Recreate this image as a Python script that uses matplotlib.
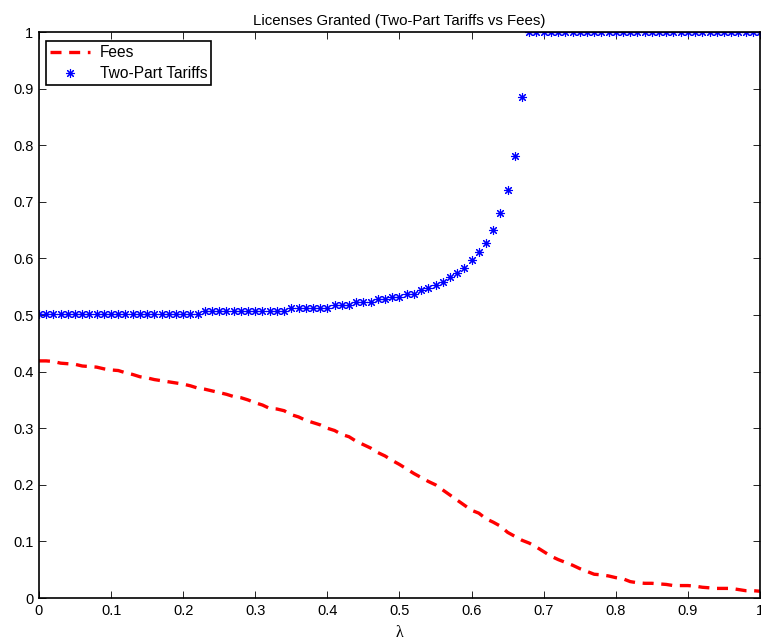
import matplotlib as mpl
import matplotlib.pyplot as plt
import numpy as np

mpl.rcParams['font.family'] = ['Liberation Sans', 'DejaVu Sans']

lam = np.round(np.arange(0, 101) * 0.01, 2)

fees = [0.419, 0.419, 0.418, 0.415, 0.414, 0.413, 0.410, 0.409, 0.408, 0.405,
        0.403, 0.402, 0.398, 0.395, 0.391, 0.389, 0.386, 0.384, 0.382, 0.380,
        0.378, 0.375, 0.371, 0.369, 0.366, 0.363, 0.360, 0.356, 0.354, 0.350,
        0.345, 0.341, 0.335, 0.334, 0.331, 0.324, 0.320, 0.314, 0.310, 0.306,
        0.300, 0.296, 0.289, 0.285, 0.277, 0.271, 0.265, 0.257, 0.251, 0.243,
        0.236, 0.228, 0.220, 0.213, 0.206, 0.200, 0.191, 0.182, 0.173, 0.164,
        0.155, 0.150, 0.140, 0.134, 0.127, 0.116, 0.109, 0.102, 0.097, 0.090,
        0.082, 0.074, 0.068, 0.063, 0.058, 0.052, 0.047, 0.042, 0.041, 0.039,
        0.036, 0.034, 0.029, 0.027, 0.026, 0.026, 0.025, 0.024, 0.022, 0.022,
        0.022, 0.021, 0.019, 0.018, 0.017, 0.017, 0.017, 0.015, 0.013, 0.013,
        0.012]

tariffs = ([0.502] * 23 + [0.508] * 12 + [0.512] * 6 + [0.518] * 3 + [0.523] * 3
           + [0.528, 0.528, 0.532, 0.532, 0.537, 0.537, 0.544, 0.548, 0.553, 0.559,
              0.568, 0.574, 0.583, 0.597, 0.612, 0.628, 0.651, 0.681, 0.721, 0.781,
              0.885]
           + [1.0] * 33)

xticks = [0, 0.1, 0.2, 0.3, 0.4, 0.5, 0.6, 0.7, 0.8, 0.9, 1]
yticks = [0, 0.1, 0.2, 0.3, 0.4, 0.5, 0.6, 0.7, 0.8, 0.9, 1]
ticklabels = ['0', '0.1', '0.2', '0.3', '0.4', '0.5', '0.6', '0.7', '0.8', '0.9', '1']

fig = plt.figure(figsize=(7.61, 6.42), dpi=100)
ax = fig.add_axes([0.0512, 0.0685, 0.9475, 0.8815])

ax.plot(lam, fees, color='red', linewidth=2.4, linestyle=(0, (3.3, 2.3)), label='Fees')
ax.plot(lam, tariffs, linestyle='none', marker=(8, 2, 0), markersize=6.5,
        markeredgewidth=0.8, color='blue', markeredgecolor='blue', label='Two-Part Tariffs')

ax.set_xlim(0, 1)
ax.set_ylim(0, 1)
ax.set_xticks(xticks)
ax.set_xticklabels(ticklabels)
ax.set_yticks(yticks)
ax.set_yticklabels(ticklabels)
ax.tick_params(direction='in', top=True, right=True, length=5, width=0.6,
               labelsize=10.5, pad=4)
for s in ax.spines.values():
    s.set_linewidth(1.2)

ax.set_title('Licenses Granted (Two-Part Tariffs vs Fees)', fontsize=10.8, pad=5)
ax.set_xlabel('λ', fontsize=11.5, family=['Liberation Serif', 'DejaVu Serif'], labelpad=5)

leg = ax.legend(loc='upper left', bbox_to_anchor=(0.0097, 0.984), fancybox=False,
                edgecolor='black', framealpha=1, fontsize=11.2, borderpad=0.25,
                handlelength=2.6, handletextpad=0.6, labelspacing=0.4, borderaxespad=0)
leg.get_frame().set_linewidth(1.2)

fig.savefig('out.png', dpi=100)
